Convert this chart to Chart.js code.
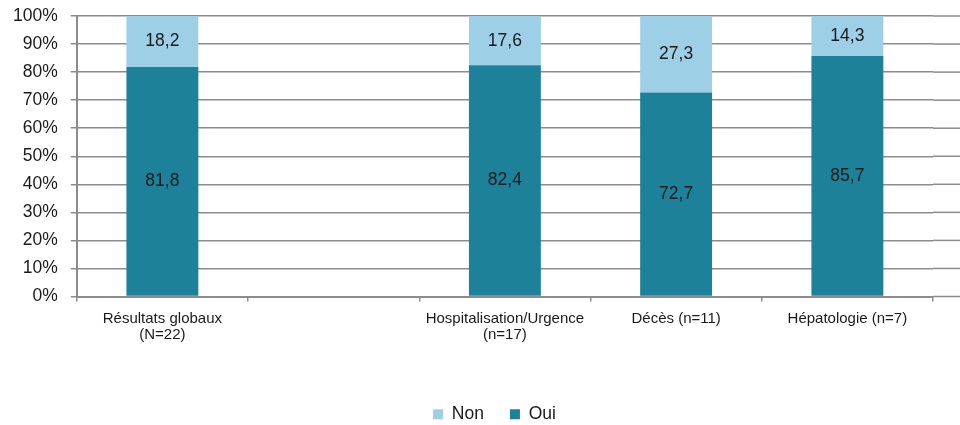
<!DOCTYPE html>
<html lang="fr">
<head>
<meta charset="utf-8">
<script src="https://cdn.jsdelivr.net/npm/chart.js@4/dist/chart.umd.min.js"></script>
<style>
  html, body { margin: 0; padding: 0; background: #fff; }
  #chart { display: block; }
</style>
</head>
<body>
<canvas id="chart" width="960" height="425"></canvas>
<script>
  const categories = [
    ['Résultats globaux', '(N=22)'],
    '',
    ['Hospitalisation/Urgence', '(n=17)'],
    'Décès (n=11)',
    'Hépatologie (n=7)',
  ];
  const ouiValues = [81.8, null, 82.4, 72.7, 85.7];
  const nonValues = [18.2, null, 17.6, 27.3, 14.3];
  const yTicks = [0, 10, 20, 30, 40, 50, 60, 70, 80, 90, 100];

  const GRID = '#8c8c8c';
  const TEXT = '#1a1a1a';
  const FONT = '"Liberation Sans", Arial, sans-serif';

  function fmtComma(value) {
    return value.toFixed(1).replace('.', ',');
  }

  // value labels centred in each stacked segment
  const segmentLabels = {
    id: 'segmentLabels',
    afterDatasetsDraw(chart) {
      const ctx = chart.ctx;
      ctx.save();
      ctx.font = '17.5px ' + FONT;
      ctx.fillStyle = TEXT;
      ctx.textAlign = 'center';
      ctx.textBaseline = 'middle';
      chart.data.datasets.forEach((ds, di) => {
        chart.getDatasetMeta(di).data.forEach((bar, i) => {
          const v = ds.data[i];
          if (v == null) return;
          const { x, y, base } = bar.getProps(['x', 'y', 'base'], true);
          ctx.fillText(fmtComma(v), x, (y + base) / 2);
        });
      });
      ctx.restore();
    },
  };

  // horizontal grid lines run on to the right edge of the canvas
  const gridRunout = {
    id: 'gridRunout',
    beforeDatasetsDraw(chart) {
      const ctx = chart.ctx;
      const area = chart.chartArea;
      const yScale = chart.scales.y;
      ctx.save();
      ctx.strokeStyle = GRID;
      ctx.lineWidth = 1.5;
      yTicks.forEach((t) => {
        const py = yScale.getPixelForValue(t);
        ctx.beginPath();
        ctx.moveTo(area.right, py);
        ctx.lineTo(chart.width, py);
        ctx.stroke();
      });
      ctx.restore();
    },
  };

  // nudge the legend a little right and down
  const legendShift = {
    id: 'legendShift',
    afterLayout(chart) {
      const lg = chart.legend;
      lg.left += 28;
      lg.right += 28;
      lg.top += 8;
      lg.bottom += 8;
    },
  };

  new Chart(document.getElementById('chart'), {
    type: 'bar',
    data: {
      labels: categories,
      datasets: [
        {
          label: 'Oui',
          data: ouiValues,
          backgroundColor: '#1c8199',
          barPercentage: 0.42,
          categoryPercentage: 1,
        },
        {
          label: 'Non',
          data: nonValues,
          backgroundColor: '#9dcfe6',
          barPercentage: 0.42,
          categoryPercentage: 1,
        },
      ],
    },
    options: {
      responsive: false,
      animation: false,
      layout: { padding: { left: 0, right: 27, top: 16, bottom: 0 } },
      scales: {
        x: {
          stacked: true,
          afterFit(scale) {
            scale.height = 75;
          },
          grid: {
            offset: true,
            drawOnChartArea: false,
            drawTicks: true,
            tickLength: 5,
            color: GRID,
            lineWidth: 1.5,
          },
          border: { color: GRID, width: 2 },
          ticks: {
            color: TEXT,
            font: { family: FONT, size: 15, lineHeight: 1.1 },
            maxRotation: 0,
            autoSkip: false,
            padding: 9,
          },
        },
        y: {
          stacked: true,
          min: 0,
          max: 100,
          afterBuildTicks(scale) {
            scale.ticks = yTicks.map((v) => ({ value: v }));
          },
          afterFit(scale) {
            // the top label may sit in the layout padding
            scale.paddingTop = 0;
            scale.paddingBottom = 0;
          },
          grid: {
            color: GRID,
            lineWidth: 1.5,
            drawTicks: true,
            tickLength: 6,
          },
          border: { color: GRID, width: 2 },
          ticks: {
            color: TEXT,
            font: { family: FONT, size: 17.5 },
            padding: 13,
            callback: (v) => v + '%',
          },
        },
      },
      plugins: {
        legend: {
          position: 'bottom',
          reverse: true,
          labels: {
            color: TEXT,
            font: { family: FONT, size: 17.5 },
            boxWidth: 10,
            boxHeight: 10,
            padding: 26,
          },
        },
        tooltip: { enabled: false },
      },
    },
    plugins: [segmentLabels, gridRunout, legendShift],
  });
</script>
</body>
</html>
